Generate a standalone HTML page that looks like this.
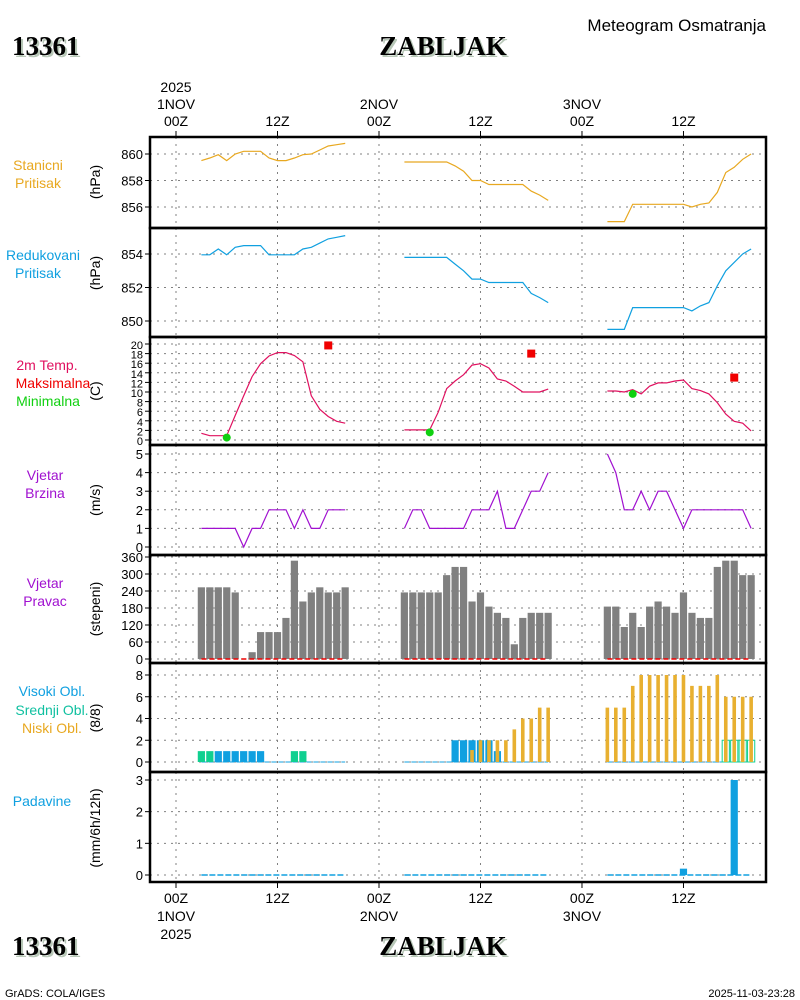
<!DOCTYPE html>
<html><head><meta charset="utf-8"><style>
body{margin:0;background:#fff;width:800px;height:1000px;overflow:hidden}
svg{display:block}
text{font-family:"Liberation Sans",sans-serif}
text.serif{font-family:"Liberation Serif",serif}
</style></head><body>
<svg id="c" width="800" height="1000" xmlns="http://www.w3.org/2000/svg"></svg>
<script>
const hours=[3,4,5,6,7,8,9,10,11,12,13,14,15,16,17,18,19,20,27,28,29,30,31,32,33,34,35,36,37,38,39,40,41,42,43,44,51,52,53,54,55,56,57,58,59,60,61,62,63,64,65,66,67,68];
const stationP=[859.5,859.7,859.95,859.5,860,860.2,860.2,860.2,859.7,859.5,859.5,859.7,859.95,860,860.3,860.6,860.7,860.8,
859.4,859.4,859.4,859.4,859.4,859.4,859.1,858.7,858,858,857.7,857.7,857.7,857.7,857.7,857.2,856.9,856.5,
854.9,854.9,854.9,856.2,856.2,856.2,856.2,856.2,856.2,856.2,856.0,856.2,856.3,857.1,858.6,859,859.6,860];
const reducedP=[853.95,853.95,854.3,853.95,854.4,854.5,854.5,854.5,853.95,853.95,853.95,853.95,854.3,854.4,854.65,854.9,855,855.1,
853.8,853.8,853.8,853.8,853.8,853.8,853.4,853,852.5,852.5,852.3,852.3,852.3,852.3,852.3,851.65,851.4,851.1,
849.5,849.5,849.5,850.8,850.8,850.8,850.8,850.8,850.8,850.8,850.6,850.9,851.1,852.1,853,853.5,854,854.3];
const temp=[1.4,0.9,0.9,0.9,5.1,9.2,13.2,15.9,17.5,18.2,18.2,17.6,16.3,9.2,6.4,4.9,3.9,3.5,
2.1,2.1,2.1,2.1,5.8,10.7,12.3,13.6,15.6,15.9,15,12.7,12.3,11.2,10,10,10,10.6,
10.2,10.2,10,10.5,9.6,11.2,11.9,11.9,12.3,12.5,10.7,10.3,9.6,7.8,5.4,3.9,3.5,1.9];
const tmaxHours=[18,42,66];
const tmaxVals=[19.7,18,13];
const tminHours=[6,30,54];
const tminVals=[0.5,1.6,9.6];
const windSpd=[1,1,1,1,1,0,1,1,2,2,2,1,2,1,1,2,2,2,
1,2,2,1,1,1,1,1,2,2,2,3,1,1,2,3,3,4,
5,4,2,2,3,2,3,3,2,1,2,2,2,2,2,2,2,1];
const windDir=[253,253,253,253,235,0,24,95,95,95,145,347,203,235,253,235,235,253,
235,235,235,235,235,296,325,325,203,235,185,163,145,52,145,163,163,163,
185,185,113,163,113,185,203,185,163,235,163,145,145,325,347,347,296,296];
const cloudHigh=[0,0,1,1,1,1,1,1,0,0,0,0,0,0,0,0,0,0,
0,0,0,0,0,0,2,2,2,2,2,1,0,0,0,0,0,0,
0,0,0,0,0,0,0,0,0,0,0,0,0,0,0,0,0,0];
const cloudMid=[1,1,0,0,0,0,0,0,0,0,0,1,1,0,0,0,0,0,
0,0,0,0,0,0,0,0,0,0,0,0,0,0,0,0,0,0,
0,0,0,0,0,0,0,0,0,0,0,0,0,0,2,2,2,2];
const cloudLow=[0,0,0,0,0,0,0,0,0,0,0,0,0,0,0,0,0,0,
0,0,0,0,0,0,0,0,1.1,2,2,2,2,3,4,4,5,5,
5,5,5,7,8,8,8,8,8,8,7,7,7,8,6,6,6,6];
const precip=[0,0,0,0,0,0,0,0,0,0,0,0,0,0,0,0,0,0,
0,0,0,0,0,0,0,0,0,0,0,0,0,0,0,0,0,0,
0,0,0,0,0,0,0,0,0,0.2,0,0,0,0,0,3,0,0];
const timeTicks=[0,12,24,36,48,60];
const timeLabels=["00Z","12Z","00Z","12Z","00Z","12Z"];
const dayLabels=["1NOV","","2NOV","","3NOV",""];

const svg=document.getElementById('c');
const NS="http://www.w3.org/2000/svg";
function el(t,a,p){const e=document.createElementNS(NS,t);for(const k in a)e.setAttribute(k,a[k]);(p||svg).appendChild(e);return e;}
function tx(x,y,s,a,p){const e=el('text',Object.assign({x:x,y:y},a),p);e.textContent=s;return e;}
const X0=150,X1=766;
const xS=h=>176+h*8.458;
const panels=[
 {name:'station-pressure',t:137,b:228,v0:856,y0:207,v1:860,y1:154,ticks:[856,858,860]},
 {name:'reduced-pressure',t:228,b:337,v0:850,y0:321,v1:854,y1:254,ticks:[850,852,854]},
 {name:'temperature',t:337,b:445,v0:0,y0:440,v1:20,y1:344,ticks:[0,2,4,6,8,10,12,14,16,18,20]},
 {name:'wind-speed',t:445,b:555,v0:0,y0:547,v1:5,y1:454,ticks:[0,1,2,3,4,5]},
 {name:'wind-direction',t:555,b:663,v0:0,y0:659,v1:360,y1:557,ticks:[0,60,120,180,240,300,360]},
 {name:'cloud-cover',t:663,b:772,v0:0,y0:762,v1:8,y1:675,ticks:[0,2,4,6,8]},
 {name:'precipitation',t:772,b:882,v0:0,y0:875,v1:3,y1:780,ticks:[0,1,2,3]}];
panels.forEach(p=>{p.y=v=>p.y0+(v-p.v0)*(p.y1-p.y0)/(p.v1-p.v0);});

panels.forEach(p=>{
 const g=el('g',{});
 
 
 timeTicks.forEach(h=>{el('line',{x1:xS(h),x2:xS(h),y1:p.t,y2:p.b,stroke:'#808080','stroke-dasharray':'2,5','stroke-width':1},g);});
 p.ticks.forEach(v=>{const y=p.y(v);
  el('line',{x1:X0,x2:X1,y1:y,y2:y,stroke:'#808080','stroke-dasharray':'2,5','stroke-width':1},g);
  el('line',{x1:X0-5,x2:X0,y1:y,y2:y,stroke:'#000'},g);
  const t=tx(X0-7,y+5,String(v),{'text-anchor':'end','font-size':p.name==='temperature'?11:13,fill:'#000'},g);
  
 });
});
function series(arr,p,color,name){
 let d='';
 hours.forEach((h,i)=>{const cmd=(i===0||h-hours[i-1]>1)?'M':'L';d+=cmd+xS(h).toFixed(1)+','+p.y(arr[i]).toFixed(1)+' ';});
 const e=el('path',{d:d,fill:'none',stroke:color,'stroke-width':1.2});
 
}
series(stationP,panels[0],'#e8a820','station-pressure-line');
series(reducedP,panels[1],'#10a0e0','reduced-pressure-line');
series(temp,panels[2],'#e0105f','temperature-line');
tmaxHours.forEach((h,i)=>{const e=el('rect',{x:xS(h)-4,y:panels[2].y(tmaxVals[i])-4,width:8,height:8,fill:'#f00000'});
 });
tminHours.forEach((h,i)=>{const e=el('circle',{cx:xS(h),cy:panels[2].y(tminVals[i]),r:4,fill:'#10d010'});
 });
series(windSpd,panels[3],'#a010d0','wind-speed-line');
hours.forEach((h,i)=>{const p=panels[4];if(windDir[i]<=0)return;const y=p.y(windDir[i]);
 const e=el('rect',{x:xS(h)-3.6,y:y,width:7.2,height:p.y0-y,fill:'#808080'});
 });
[[3,20],[27,44],[51,68]].forEach(r=>{const e=el('line',{x1:xS(r[0]),x2:xS(r[1]),y1:panels[4].y0,y2:panels[4].y0,stroke:'#f00000','stroke-dasharray':'5,3','stroke-width':1.5});
 });
const pc=panels[5];
[[3,20],[27,44],[51,68]].forEach(r=>{const e=el('line',{x1:xS(r[0]),x2:xS(r[1]),y1:pc.y0,y2:pc.y0,stroke:'#10a0e0','stroke-dasharray':'5,2','stroke-width':1});
 });
hours.forEach((h,i)=>{
 if(cloudHigh[i]>0){const y=pc.y(cloudHigh[i]);const e=el('rect',{x:xS(h)-3.6,y:y,width:7.2,height:pc.y0-y,fill:'#10a0e0'});
  }
 if(cloudMid[i]>0){const y=pc.y(cloudMid[i]);const out=cloudMid[i]>=2;const e=el('rect',{x:xS(h)-3.6,y:y,width:7.2,height:pc.y0-y,fill:out?'none':'#10d090',stroke:out?'#10d090':'none','stroke-width':1});
  }
 if(cloudLow[i]>0){const y=pc.y(cloudLow[i]);const e=el('rect',{x:xS(h)-1.8,y:y,width:3.6,height:pc.y0-y,fill:'#e8b030'});
  }
});
const pp=panels[6];
[[3,20],[27,44],[51,68]].forEach(r=>{const e=el('line',{x1:xS(r[0]),x2:xS(r[1]),y1:pp.y0,y2:pp.y0,stroke:'#10a0e0','stroke-dasharray':'6,2','stroke-width':1.5});
 });
hours.forEach((h,i)=>{if(precip[i]<=0)return;const y=pp.y(precip[i]);
 const e=el('rect',{x:xS(h)-3.6,y:y,width:7.2,height:pp.y0-y,fill:'#10a0e0'});
 });
panels.forEach(p=>{el('rect',{x:X0,y:p.t,width:X1-X0,height:p.b-p.t,fill:'none',stroke:'#000','stroke-width':2.5});});
timeTicks.forEach((h,i)=>{const x=xS(h);
 el('line',{x1:x,x2:x,y1:131,y2:137,stroke:'#000'});
 el('line',{x1:x,x2:x,y1:882,y2:888,stroke:'#000'});
 let t=tx(x,126,timeLabels[i],{'text-anchor':'middle','font-size':14});
 t=tx(x,903,timeLabels[i],{'text-anchor':'middle','font-size':14});
 if(dayLabels[i]){t=tx(x,109,dayLabels[i],{'text-anchor':'middle','font-size':14});
  t=tx(x,921,dayLabels[i],{'text-anchor':'middle','font-size':14});}
});
tx(xS(0),92,"2025",{'text-anchor':'middle','font-size':14});
tx(xS(0),939,"2025",{'text-anchor':'middle','font-size':14});
const L=[["Stanicni",38,170,'#e8a820'],["Pritisak",38,188,'#e8a820'],
["Redukovani",43,260,'#10a0e0'],["Pritisak",38,278,'#10a0e0'],
["2m Temp.",47,370,'#e0105f'],["Maksimalna",53,388,'#f00000'],["Minimalna",48,406,'#10d010'],
["Vjetar",45,480,'#a010d0'],["Brzina",45,498,'#a010d0'],
["Vjetar",45,588,'#a010d0'],["Pravac",45,606,'#a010d0'],
["Visoki Obl.",52,696,'#10a0e0'],["Srednji Obl.",52,715,'#10c0a0'],["Niski Obl.",52,733,'#e8a820'],
["Padavine",42,806,'#10a0e0']];
L.forEach(l=>{const t=tx(l[1],l[2],l[0],{'text-anchor':'middle','font-size':14,fill:l[3]});});
const U=[["(hPa)",182],["(hPa)",273],["(C)",391],["(m/s)",500],["(stepeni)",609],["(8/8)",718],["(mm/6h/12h)",828]];
U.forEach(u=>{const t=tx(0,0,u[0],{'text-anchor':'middle','font-size':14,transform:`translate(100,${u[1]}) rotate(-90)`});});
function title(x,y,s,anchor,name){
 tx(x+2,y+2,s,{'text-anchor':anchor,'font-size':27,'font-weight':'bold',class:'serif',fill:'#b8c8b8'});
 const t=tx(x,y,s,{'text-anchor':anchor,'font-size':27,'font-weight':'bold',class:'serif',fill:'#000'});
 }
title(12,55,"13361",'start','station-id');
title(443,55,"ZABLJAK",'middle','station-name');
title(12,955,"13361",'start','station-id-bottom');
title(443,955,"ZABLJAK",'middle','station-name-bottom');
let t=tx(766,31,"Meteogram Osmatranja",{'text-anchor':'end','font-size':17});
t=tx(5,997,"GrADS: COLA/IGES",{'font-size':11});
t=tx(795,997,"2025-11-03-23:28",{'text-anchor':'end','font-size':11});
</script>
</body></html>
